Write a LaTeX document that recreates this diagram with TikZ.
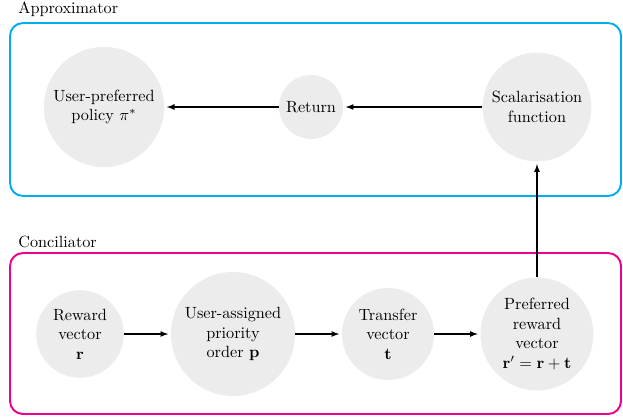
\documentclass[tikz,border=0pt]{standalone}
\usepackage{amsmath, amssymb}
\usepackage{tikz}
\definecolor{approxblue}{RGB}{0,174,239}
\definecolor{concpink}{RGB}{236,0,140}

\begin{document}
\begin{tikzpicture}
      [x=0.616pt, y=-0.616pt,
        blob/.style={circle, fill=gray!15, align=center, inner sep=0pt},
        flow/.style={-latex, line width=0.65pt, shorten >=1.5pt},
        frame/.style={rounded corners=8pt, line width=1.2pt}]
    \useasboundingbox (0,0) rectangle (623,419);
    % approximator part
    \draw[frame, approxblue] (10,23) rectangle (621,196);
    \node[anchor=west, inner sep=0pt] (approxlabel) at (18,9) {Approximator};
      \node[blob, minimum size=74pt] (policy) at (104,107) {User-preferred\\ policy $\pi^*$};
      \node[blob, minimum size=39.4pt] (return) at (311,107) {Return};
      \node[blob, minimum size=67pt] (scalar) at (537,107) {Scalarisation\\ function};
    % conciliator part
    \draw[frame, concpink] (10,253) rectangle (621,414);
    \node[anchor=west, inner sep=0pt] (conclabel) at (18,242) {Conciliator};
      \node[blob, minimum size=54pt] (reward) at (80,334) {Reward\\ vector\\ $\mathbf{r}$};
      \node[blob, minimum size=76.4pt] (priority) at (233,334) {User-assigned\\ priority\\ order $\mathbf{p}$};
      \node[blob, minimum size=56.7pt] (transfer) at (388,334) {Transfer\\ vector\\ $\mathbf{t}$};
      \node[blob, minimum size=69.6pt] (preferred) at (537,334) {Preferred\\ reward\\ vector\\ $\mathbf{r}' = \mathbf{r} + \mathbf{t}$};
    \draw[flow] (reward) -- (priority);
    \draw[flow] (priority) -- (transfer);
    \draw[flow] (transfer) -- (preferred);
    \draw[flow] (preferred) -- (scalar);
    \draw[flow] (scalar) -- (return);
    \draw[flow] (return) -- (policy);
    \end{tikzpicture}
\end{document}
